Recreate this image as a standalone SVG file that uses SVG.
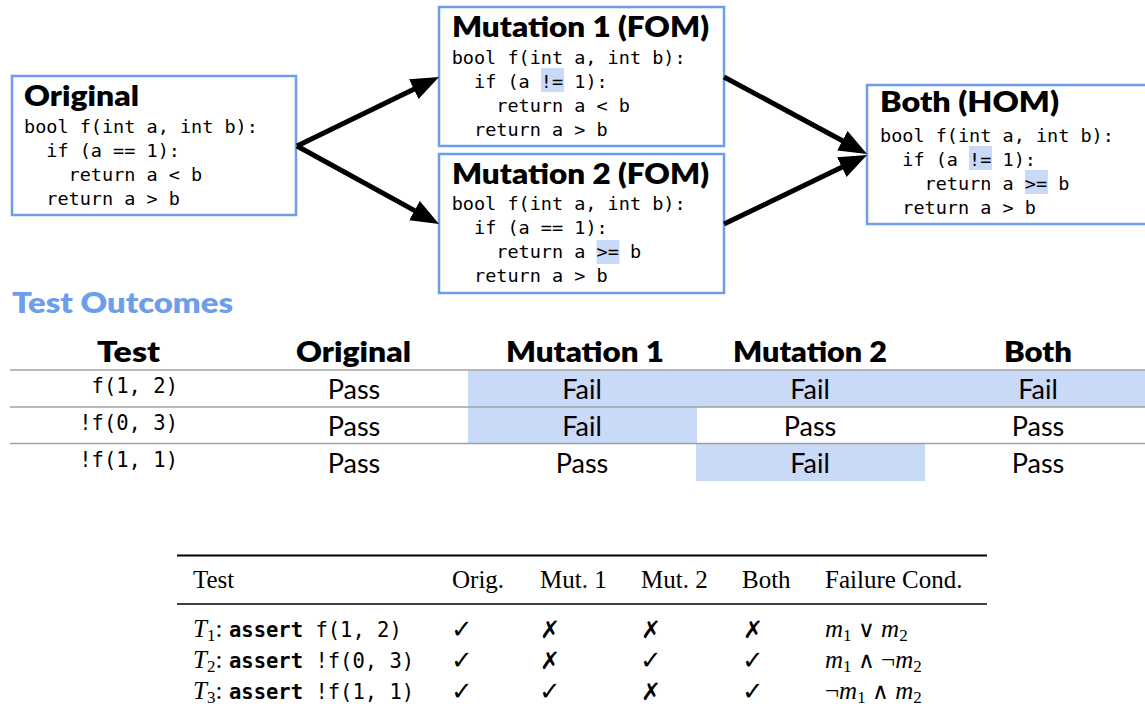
<svg xmlns="http://www.w3.org/2000/svg" width="1145" height="713" viewBox="0 0 1145 713">
  <style>
    .box { fill: #ffffff; stroke: #6d9eeb; stroke-width: 2.5; }
    .title { font-family: Lato, "Open Sans", sans-serif; font-weight: 800; font-size: 28px; fill: #000; }
    .code { font-family: "DejaVu Sans Mono", "Liberation Mono", monospace; font-size: 18.5px; fill: #000; }
    .hl { fill: #c9daf8; }
    .edge { fill: none; stroke: #000; stroke-width: 5; marker-end: url(#arrowhead); }
    .section { font-family: Lato, "Open Sans", sans-serif; font-weight: 800; font-size: 28px; fill: #6d9eeb; }
    .th { font-family: Lato, "Open Sans", sans-serif; font-weight: 800; font-size: 28px; fill: #000; }
    .td { font-family: Lato, "Open Sans", sans-serif; font-size: 27px; fill: #000; text-anchor: middle; }
    .tmono { font-family: "DejaVu Sans Mono", "Liberation Mono", monospace; font-size: 20.5px; fill: #000; }
    .rowline { stroke: #a0a0a0; stroke-width: 1.5; }
    .serif { font-family: "Liberation Serif", "DejaVu Serif", serif; font-size: 25px; fill: #000; }
    .op { font-family: "DejaVu Sans", sans-serif; font-weight: 200; font-size: 23px; }
    .check { font-family: "DejaVu Sans", sans-serif; font-size: 26px; fill: #000; }
    .cross { font-family: "DejaVu Sans", sans-serif; font-size: 24px; fill: #000; }
    .rule { stroke: #000; }
  </style>
  <defs>
    <marker id="arrowhead" markerUnits="userSpaceOnUse" markerWidth="30" markerHeight="24" viewBox="0 0 30 24" refX="8" refY="12" orient="auto">
      <path d="M0,1 L28,12 L0,23 z" fill="#000"/>
    </marker>
  </defs>

  <rect width="1145" height="713" fill="#ffffff"/>

  <!-- program variants -->
  <g id="original">
    <rect class="box" x="12" y="76" width="284" height="139"/>
    <text class="title" x="24" y="106" textLength="115" lengthAdjust="spacingAndGlyphs">Original</text>
    <text class="code">
      <tspan x="24" y="132.5">bool f(int a, int b):</tspan>
      <tspan x="46.3" y="156.5">if (a == 1):</tspan>
      <tspan x="68.6" y="180.5">return a &lt; b</tspan>
      <tspan x="46.3" y="204.5">return a &gt; b</tspan>
    </text>
  </g>

  <g id="mutation1">
    <rect class="box" x="439" y="7" width="285" height="139"/>
    <rect class="hl" x="541" y="68" width="23" height="24"/>
    <text class="title" x="452" y="37" textLength="257" lengthAdjust="spacingAndGlyphs">Mutation 1 (FOM)</text>
    <text class="code">
      <tspan x="451.7" y="63.5">bool f(int a, int b):</tspan>
      <tspan x="474" y="87.5">if (a != 1):</tspan>
      <tspan x="496.3" y="111.5">return a &lt; b</tspan>
      <tspan x="474" y="135.5">return a &gt; b</tspan>
    </text>
  </g>

  <g id="mutation2">
    <rect class="box" x="439" y="154" width="285" height="139"/>
    <rect class="hl" x="596.5" y="240" width="23" height="24"/>
    <text class="title" x="452" y="184" textLength="257" lengthAdjust="spacingAndGlyphs">Mutation 2 (FOM)</text>
    <text class="code">
      <tspan x="451.7" y="210">bool f(int a, int b):</tspan>
      <tspan x="474" y="234">if (a == 1):</tspan>
      <tspan x="496.3" y="258">return a &gt;= b</tspan>
      <tspan x="474" y="282">return a &gt; b</tspan>
    </text>
  </g>

  <g id="both">
    <rect class="box" x="867" y="85" width="290" height="139"/>
    <rect class="hl" x="969" y="146" width="23" height="24"/>
    <rect class="hl" x="1025" y="170" width="23" height="24"/>
    <text class="title" x="880" y="112" textLength="179" lengthAdjust="spacingAndGlyphs">Both (HOM)</text>
    <text class="code">
      <tspan x="880" y="141.5">bool f(int a, int b):</tspan>
      <tspan x="902.3" y="165.5">if (a != 1):</tspan>
      <tspan x="924.6" y="189.5">return a &gt;= b</tspan>
      <tspan x="902.3" y="213.5">return a &gt; b</tspan>
    </text>
  </g>

  <g id="connectors">
    <line class="edge" x1="297" y1="146" x2="421.0" y2="85.7"/>
    <line class="edge" x1="297" y1="146" x2="421.5" y2="214.4"/>
    <line class="edge" x1="724" y1="77" x2="849.4" y2="144.5"/>
    <line class="edge" x1="724" y1="224" x2="849.0" y2="163.7"/>
  </g>

  <!-- outcome grid -->
  <g id="test-outcomes">
    <text class="section" x="12" y="313" textLength="221" lengthAdjust="spacingAndGlyphs">Test Outcomes</text>

    <rect class="hl" x="468" y="370" width="677" height="37"/>
    <rect class="hl" x="468" y="407" width="229" height="36"/>
    <rect class="hl" x="696" y="443" width="229" height="38"/>

    <text class="th" x="97" y="362" textLength="63" lengthAdjust="spacingAndGlyphs">Test</text>
    <text class="th" x="296" y="362" textLength="115" lengthAdjust="spacingAndGlyphs">Original</text>
    <text class="th" x="506" y="362" textLength="158" lengthAdjust="spacingAndGlyphs">Mutation 1</text>
    <text class="th" x="733" y="362" textLength="154" lengthAdjust="spacingAndGlyphs">Mutation 2</text>
    <text class="th" x="1004" y="362" textLength="68" lengthAdjust="spacingAndGlyphs">Both</text>

    <line class="rowline" x1="10" y1="370" x2="1145" y2="370"/>
    <line class="rowline" x1="10" y1="407" x2="1145" y2="407"/>
    <line class="rowline" x1="10" y1="443.5" x2="1145" y2="443.5"/>

    <text class="tmono" x="178" y="393" text-anchor="end">f(1, 2)</text>
    <text class="tmono" x="178" y="430" text-anchor="end">!f(0, 3)</text>
    <text class="tmono" x="178" y="467" text-anchor="end">!f(1, 1)</text>

    <text class="td" x="354" y="399">Pass</text>
    <text class="td" x="582" y="399">Fail</text>
    <text class="td" x="810" y="399">Fail</text>
    <text class="td" x="1038" y="399">Fail</text>

    <text class="td" x="354" y="436">Pass</text>
    <text class="td" x="582" y="436">Fail</text>
    <text class="td" x="810" y="436">Pass</text>
    <text class="td" x="1038" y="436">Pass</text>

    <text class="td" x="354" y="473">Pass</text>
    <text class="td" x="582" y="473">Pass</text>
    <text class="td" x="810" y="473">Fail</text>
    <text class="td" x="1038" y="473">Pass</text>
  </g>

  <!-- failure-condition table -->
  <g id="failure-table">
    <line class="rule" x1="177" y1="555.5" x2="987" y2="555.5" stroke-width="2.2"/>
    <line class="rule" x1="177" y1="604" x2="987" y2="604" stroke-width="1.4"/>

    <text class="serif" x="193" y="588">Test</text>
    <text class="serif" x="452" y="588">Orig.</text>
    <text class="serif" x="540" y="588">Mut. 1</text>
    <text class="serif" x="641" y="588">Mut. 2</text>
    <text class="serif" x="742" y="588">Both</text>
    <text class="serif" x="825" y="588">Failure Cond.</text>

    <text class="serif" x="193" y="637"><tspan font-style="italic">T</tspan><tspan font-size="17" dy="4">1</tspan><tspan dy="-4">:</tspan></text>
    <text class="tmono" x="229" y="637"><tspan font-weight="bold">assert</tspan> f(1, 2)</text>
    <text class="serif" x="193" y="668"><tspan font-style="italic">T</tspan><tspan font-size="17" dy="4">2</tspan><tspan dy="-4">:</tspan></text>
    <text class="tmono" x="229" y="668"><tspan font-weight="bold">assert</tspan> !f(0, 3)</text>
    <text class="serif" x="193" y="699"><tspan font-style="italic">T</tspan><tspan font-size="17" dy="4">3</tspan><tspan dy="-4">:</tspan></text>
    <text class="tmono" x="229" y="699"><tspan font-weight="bold">assert</tspan> !f(1, 1)</text>

    <text class="check" x="451" y="638">✓</text>
    <text class="cross" x="540" y="638">✗</text>
    <text class="cross" x="641" y="638">✗</text>
    <text class="cross" x="743" y="638">✗</text>

    <text class="check" x="451" y="669">✓</text>
    <text class="cross" x="540" y="669">✗</text>
    <text class="check" x="640" y="669">✓</text>
    <text class="check" x="742" y="669">✓</text>

    <text class="check" x="451" y="700">✓</text>
    <text class="check" x="539" y="700">✓</text>
    <text class="cross" x="641" y="700">✗</text>
    <text class="check" x="742" y="700">✓</text>

    <text class="serif" x="825" y="637"><tspan font-style="italic">m</tspan><tspan font-size="17" dy="4">1</tspan><tspan dy="-4"> </tspan><tspan class="op">∨</tspan><tspan> </tspan><tspan font-style="italic">m</tspan><tspan font-size="17" dy="4">2</tspan></text>
    <text class="serif" x="825" y="668"><tspan font-style="italic">m</tspan><tspan font-size="17" dy="4">1</tspan><tspan dy="-4"> </tspan><tspan class="op">∧</tspan><tspan> ¬</tspan><tspan font-style="italic">m</tspan><tspan font-size="17" dy="4">2</tspan></text>
    <text class="serif" x="825" y="699">¬<tspan font-style="italic">m</tspan><tspan font-size="17" dy="4">1</tspan><tspan dy="-4"> </tspan><tspan class="op">∧</tspan><tspan> </tspan><tspan font-style="italic">m</tspan><tspan font-size="17" dy="4">2</tspan></text>
  </g>
</svg>
